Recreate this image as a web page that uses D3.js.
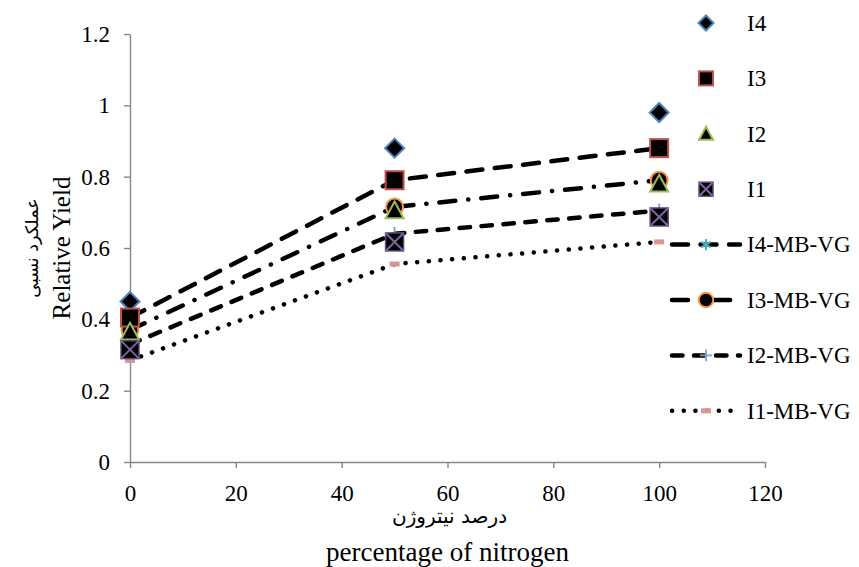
<!DOCTYPE html>
<html>
<head>
<meta charset="utf-8">
<script src="https://d3js.org/d3.v7.min.js"></script>
<style>
  body { margin: 0; background: #fff; }
  svg { display: block; }
  .axis path, .axis line { stroke: #868686; stroke-width: 1.4; }
</style>
</head>
<body>
<svg id="chart" width="859" height="567"></svg>
<script>
// nitrogen levels (%)
const nitrogen = [0, 50, 100];

// observed relative yield
const I4 = [0.45, 0.88, 0.98];
const I3 = [0.405, 0.79, 0.88];
const I2 = [0.365, 0.705, 0.78];
const I1 = [0.315, 0.617, 0.687];

// MB-VG model
const I4_MBVG = [0.405, 0.79, 0.88];
const I3_MBVG = [0.37, 0.715, 0.79];
const I2_MBVG = [0.33, 0.64, 0.705];
const I1_MBVG = [0.285, 0.555, 0.617];

const xTicks = [0, 20, 40, 60, 80, 100, 120];
const yTicks = [0, 0.2, 0.4, 0.6, 0.8, 1, 1.2];

const SERIF = '"Liberation Serif", "Times New Roman", serif';
const FA = '"DejaVu Sans", sans-serif';

const svg = d3.select('#chart');

const x = d3.scaleLinear().domain([0, 120]).range([130, 765]);
const y = d3.scaleLinear().domain([0, 1.2]).range([462, 34]);

// axes
svg.append('g')
    .attr('class', 'axis')
    .attr('transform', 'translate(0,' + y(0) + ')')
    .call(d3.axisBottom(x).tickValues(xTicks).tickSize(6).tickSizeOuter(0).tickPadding(17).tickFormat(d3.format('d')));

svg.append('g')
    .attr('class', 'axis')
    .attr('transform', 'translate(' + x(0) + ',0)')
    .call(d3.axisLeft(y).tickValues(yTicks).tickSize(6).tickSizeOuter(0).tickPadding(14).tickFormat(d => String(+d.toFixed(1))));

svg.selectAll('.axis text')
    .style('font-family', SERIF).style('font-size', '23px').attr('fill', '#000');

// axis titles
const midX = (x(0) + x(120)) / 2;
const midY = (y(0) + y(1.2)) / 2;
svg.append('text')
    .attr('x', midX + 2).attr('y', 523).attr('text-anchor', 'middle')
    .style('font-family', FA).style('font-size', '20px').text('درصد نیتروژن');
svg.append('text')
    .attr('x', midX).attr('y', 561).attr('text-anchor', 'middle')
    .style('font-family', SERIF).style('font-size', '27px').text('percentage of nitrogen');
svg.append('text')
    .attr('transform', 'translate(38,' + midY + ') rotate(-90)')
    .attr('text-anchor', 'middle')
    .style('font-family', FA).style('font-size', '17.5px').text('عملکرد نسبی');
svg.append('text')
    .attr('transform', 'translate(70,' + midY + ') rotate(-90)')
    .attr('text-anchor', 'middle')
    .style('font-family', SERIF).style('font-size', '25px').text('Relative Yield');

// marker painters
function marker(g, type, cx, cy, s) {
    const h = s / 2;
    if (type === 'diamond') {
        g.append('path').attr('d', `M${cx},${cy - h}L${cx + h},${cy}L${cx},${cy + h}L${cx - h},${cy}Z`)
            .attr('fill', '#000').attr('stroke', '#4F81BD').attr('stroke-width', 2);
    } else if (type === 'square') {
        g.append('rect').attr('x', cx - h).attr('y', cy - h).attr('width', s).attr('height', s)
            .attr('fill', '#000').attr('stroke', '#C0504D').attr('stroke-width', 2);
    } else if (type === 'triangle') {
        g.append('path').attr('d', `M${cx},${cy - h}L${cx + h},${cy + h * 0.85}L${cx - h},${cy + h * 0.85}Z`)
            .attr('fill', '#000').attr('stroke', '#9BBB59').attr('stroke-width', 2);
    } else if (type === 'xsquare') {
        g.append('rect').attr('x', cx - h).attr('y', cy - h).attr('width', s).attr('height', s)
            .attr('fill', '#000').attr('stroke', '#5f4a7a').attr('stroke-width', 1.5);
        g.append('path').attr('d', `M${cx - h},${cy - h}L${cx + h},${cy + h}M${cx + h},${cy - h}L${cx - h},${cy + h}`)
            .attr('stroke', '#8064A2').attr('stroke-width', 2);
    } else if (type === 'star') {
        g.append('path').attr('d', `M${cx},${cy - h}V${cy + h}M${cx - h * 0.87},${cy - h * 0.5}L${cx + h * 0.87},${cy + h * 0.5}M${cx + h * 0.87},${cy - h * 0.5}L${cx - h * 0.87},${cy + h * 0.5}`)
            .attr('stroke', '#4BACC6').attr('stroke-width', 2);
    } else if (type === 'circle') {
        g.append('circle').attr('cx', cx).attr('cy', cy).attr('r', h)
            .attr('fill', '#000').attr('stroke', '#F79646').attr('stroke-width', 2);
    } else if (type === 'plus') {
        g.append('path').attr('d', `M${cx},${cy - h}V${cy + h}M${cx - h},${cy}H${cx + h}`)
            .attr('stroke', '#7F9FD2').attr('stroke-width', 1.8);
    } else if (type === 'dash') {
        g.append('rect').attr('x', cx - 5).attr('y', cy - 2.5).attr('width', 10).attr('height', 5)
            .attr('fill', '#D99694');
    }
}

const pointSeries = [
    { name: 'I4', values: I4, type: 'diamond', size: 19, legSize: 15 },
    { name: 'I3', values: I3, type: 'square', size: 18, legSize: 14 },
    { name: 'I2', values: I2, type: 'triangle', size: 18, legSize: 14 },
    { name: 'I1', values: I1, type: 'xsquare', size: 18, legSize: 14 }
];
const lineSeries = [
    { name: 'I4-MB-VG', values: I4_MBVG, type: 'star', size: 13, dash: '16,12.5' },
    { name: 'I3-MB-VG', values: I3_MBVG, type: 'circle', size: 17, dash: '16,13,0.1,13' },
    { name: 'I2-MB-VG', values: I2_MBVG, type: 'plus', size: 14, dash: '10.5,11.5' },
    { name: 'I1-MB-VG', values: I1_MBVG, type: 'dash', size: 10, dash: '0.1,11.6' }
];

const line = d3.line().x((d, i) => x(nitrogen[i])).y(d => y(d));
const plot = svg.append('g');

// model lines (drawn beneath the observed points)
lineSeries.forEach(s => {
    plot.append('path').datum(s.values)
        .attr('d', line).attr('fill', 'none')
        .attr('stroke', '#000').attr('stroke-width', 4.5)
        .attr('stroke-linecap', 'round').attr('stroke-dasharray', s.dash);
});
lineSeries.forEach(s => {
    s.values.forEach((v, i) => marker(plot, s.type, x(nitrogen[i]), y(v), s.size));
});
pointSeries.forEach(s => {
    s.values.forEach((v, i) => marker(plot, s.type, x(nitrogen[i]), y(v), s.size));
});

// legend
const legend = svg.append('g');
const allSeries = pointSeries.concat(lineSeries);
allSeries.forEach((s, i) => {
    const ly = 23 + i * 55.4;
    if (s.dash) {
        legend.append('line').attr('x1', 672).attr('x2', 740).attr('y1', ly).attr('y2', ly)
            .attr('stroke', '#000').attr('stroke-width', 4.5)
            .attr('stroke-linecap', 'round').attr('stroke-dasharray', s.dash);
        marker(legend, s.type, 706, ly, s.size * 0.85);
    } else {
        marker(legend, s.type, 706, ly, s.legSize);
    }
    legend.append('text').attr('x', 747).attr('y', ly).attr('dy', '0.34em')
        .style('font-family', SERIF).style('font-size', '23px').text(s.name);
});
</script>
</body>
</html>
